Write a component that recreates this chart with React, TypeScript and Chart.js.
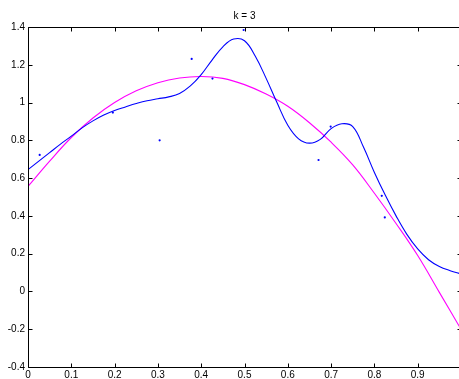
import React, { useEffect, useRef } from "react";
import { Chart, registerables } from "chart.js";

Chart.register(...registerables);

const titleText = "k = 3";

const xTicks = [0, 0.1, 0.2, 0.3, 0.4, 0.5, 0.6, 0.7, 0.8, 0.9, 1];
const xTickLabels = ["0", "0.1", "0.2", "0.3", "0.4", "0.5", "0.6", "0.7", "0.8", "0.9", ""];
const yTicks = [-0.4, -0.2, 0, 0.2, 0.4, 0.6, 0.8, 1, 1.2, 1.4];
const yTickLabels = ["-0.4", "-0.2", "0", "0.2", "0.4", "0.6", "0.8", "1", "1.2", "1.4"];

// observed samples
const sampleX = [0.027, 0.196, 0.304, 0.378, 0.426, 0.498, 0.671, 0.699, 0.817, 0.824];
const sampleY = [0.723, 0.947, 0.8, 1.231, 1.127, 1.384, 0.696, 0.873, 0.506, 0.392];

// blue fitted curve (k = 3)
const blueX = [0, 0.025, 0.05, 0.075, 0.1, 0.125, 0.15, 0.175, 0.2, 0.225, 0.25, 0.275, 0.3, 0.325, 0.35, 0.375, 0.4, 0.425, 0.45, 0.475, 0.5, 0.525, 0.55, 0.575, 0.6, 0.625, 0.65, 0.675, 0.7, 0.725, 0.75, 0.775, 0.8, 0.825, 0.85, 0.875, 0.9, 0.925, 0.95, 0.975, 1];
const blueY = [0.645, 0.69, 0.735, 0.78, 0.822, 0.866, 0.903, 0.934, 0.958, 0.977, 0.995, 1.01, 1.02, 1.03, 1.048, 1.088, 1.148, 1.225, 1.295, 1.336, 1.327, 1.245, 1.128, 1.0, 0.88, 0.808, 0.785, 0.805, 0.862, 0.888, 0.873, 0.763, 0.63, 0.51, 0.4, 0.302, 0.225, 0.168, 0.132, 0.11, 0.093];

// magenta fitted curve
const magentaX = [0, 0.05, 0.1, 0.15, 0.2, 0.25, 0.3, 0.35, 0.4, 0.45, 0.5, 0.55, 0.6, 0.65, 0.7, 0.75, 0.8, 0.85, 0.9, 0.95, 1];
const magentaY = [0.556, 0.69, 0.815, 0.918, 1.0, 1.062, 1.105, 1.13, 1.138, 1.128, 1.095, 1.045, 0.98, 0.893, 0.79, 0.67, 0.52, 0.36, 0.19, -0.005, -0.2];

const FONT = "Liberation Sans, Arial, sans-serif";

const framePlugin = {
  id: "frame",
  afterDraw(chart: any) {
    const { ctx, chartArea } = chart;
    const { left, right, top, bottom } = chartArea;
    const xs = chart.scales.x;
    const ys = chart.scales.y;
    const L = Math.round(left) + 0.5;
    const R = Math.round(right) + 0.5;
    const T = Math.round(top) + 0.5;
    const B = Math.round(bottom) + 0.5;
    ctx.save();
    ctx.strokeStyle = "#000";
    ctx.lineWidth = 1;
    ctx.beginPath();
    ctx.moveTo(L, T);
    ctx.lineTo(R, T);
    ctx.lineTo(R, B);
    ctx.lineTo(L, B);
    ctx.closePath();
    ctx.stroke();
    const len = 4;
    ctx.beginPath();
    xTicks.forEach((v) => {
      const px = Math.round(xs.getPixelForValue(v)) + 0.5;
      ctx.moveTo(px, B);
      ctx.lineTo(px, B - len);
      ctx.moveTo(px, T);
      ctx.lineTo(px, T + len);
    });
    yTicks.forEach((v) => {
      const py = Math.round(ys.getPixelForValue(v)) + 0.5;
      ctx.moveTo(L, py);
      ctx.lineTo(L + len, py);
      ctx.moveTo(R, py);
      ctx.lineTo(R - len, py);
    });
    ctx.stroke();
    ctx.fillStyle = "#000";
    ctx.font = "10px " + FONT;
    ctx.textAlign = "center";
    ctx.textBaseline = "middle";
    ctx.fillText(titleText, (left + right) / 2, 16);
    ctx.restore();
  },
};

export default function App() {
  const ref = useRef<HTMLCanvasElement>(null);
  useEffect(() => {
    if (!ref.current) return;
    const chart = new Chart(ref.current, {
      type: "line",
      data: {
        datasets: [
          {
            type: "scatter",
            data: sampleX.map((x, i) => ({ x, y: sampleY[i] })),
            showLine: false,
            pointRadius: 1.1,
            pointBackgroundColor: "#0000ff",
            pointBorderWidth: 0,
            order: 0,
          } as any,
          {
            data: blueX.map((x, i) => ({ x, y: blueY[i] })),
            borderColor: "#0000ff",
            borderWidth: 1.1,
            pointRadius: 0,
            tension: 0.4,
            fill: false,
            order: 1,
          },
          {
            data: magentaX.map((x, i) => ({ x, y: magentaY[i] })),
            borderColor: "#ff00ff",
            borderWidth: 1.1,
            pointRadius: 0,
            tension: 0.4,
            fill: false,
            order: 2,
          },
        ],
      },
      options: {
        animation: false,
        responsive: false,
        devicePixelRatio: 1,
        layout: { padding: { top: 27, left: 0, right: 19, bottom: 0 } },
        plugins: { legend: { display: false }, title: { display: false }, tooltip: { enabled: false } },
        scales: {
          x: {
            type: "linear",
            min: 0,
            max: 1,
            afterBuildTicks: (s: any) => {
              s.ticks = xTicks.map((v) => ({ value: v }));
            },
            afterFit: (s: any) => {
              s.height = 12;
            },
            grid: { display: false, drawTicks: false },
            border: { display: false },
            ticks: {
              autoSkip: false,
              maxRotation: 0,
              padding: 2,
              color: "#000",
              font: { family: FONT, size: 10 },
              callback: (_v: any, i: number) => xTickLabels[i],
            },
          },
          y: {
            type: "linear",
            min: -0.4,
            max: 1.4,
            afterBuildTicks: (s: any) => {
              s.ticks = yTicks.map((v) => ({ value: v }));
            },
            afterFit: (s: any) => {
              s.width = 28;
            },
            grid: { display: false, drawTicks: false },
            border: { display: false },
            ticks: {
              autoSkip: false,
              padding: 3,
              color: "#000",
              font: { family: FONT, size: 10 },
              callback: (_v: any, i: number) => yTickLabels[i],
            },
          },
        },
      },
      plugins: [framePlugin],
    });
    return () => chart.destroy();
  }, []);
  return (
    <div style={{ position: "fixed", left: 0, top: 0, width: 459, height: 379, overflow: "hidden", background: "#fff" }}>
      <canvas ref={ref} width={480} height={379} style={{ display: "block" }} />
    </div>
  );
}
